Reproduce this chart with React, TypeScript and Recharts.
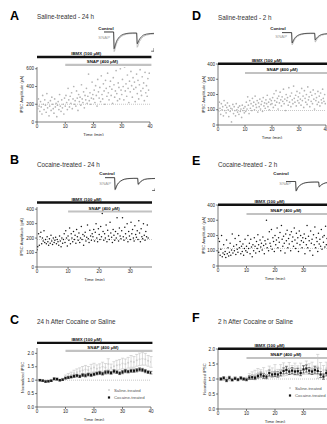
import React from "react";
import {
  ScatterChart,
  Scatter,
  XAxis,
  YAxis,
  ReferenceLine,
  ErrorBar,
  LineChart,
  Line,
} from "recharts";

const FONT = "'Liberation Sans', Arial, Helvetica, sans-serif";
const INK = "#262626";
const DOT_GRAY = "#b4b4b4";
const BAR_GRAY = "#c2c2c2";

// one sweep every 15 s
const SWEEP = 0.25;

// A: saline-treated, 24 h (pA)
const salineA24 = [
  210, 150, 260, 180, 120, 230, 170, 90, 300, 200,
  140, 250, 190, 110, 320, 160, 220, 70, 180, 240,
  130, 280, 200, 150, 100, 260, 170, 210, 60, 190,
  230, 140, 310, 180, 120, 250, 160, 200, 90, 270,
  180, 300, 220, 140, 380, 250, 170, 290, 210, 330,
  150, 260, 400, 200, 240, 180, 350, 270, 130, 310,
  230, 280, 190, 420, 260, 220, 340, 160, 300, 250,
  380, 210, 290, 540, 240, 330, 200, 270, 450, 310,
  260, 360, 220, 410, 300, 180, 480, 340, 270, 390,
  230, 520, 310, 260, 430, 350, 200, 470, 380, 290,
  550, 330, 250, 400, 460, 300, 370, 210, 500, 420,
  280, 350, 580, 320, 240, 440, 390, 260, 600, 360,
  310, 480, 400, 250, 620, 350, 430, 290, 530, 380,
  220, 460, 340, 570, 410, 280, 500, 370, 450, 230,
  390, 540, 320, 470, 260, 420, 590, 350, 300, 510,
  380, 440, 240, 560, 330, 410, 290, 490, 360, 550,
];

// B: cocaine-treated, 24 h (pA)
const cocaineB24 = [
  120, 140, 230, 150, 210, 240, 160, 200, 180, 250,
  170, 190, 160, 210, 175, 150, 195, 165, 220, 180,
  155, 200, 170, 185, 205, 160, 190, 175, 150, 215,
  180, 140, 200, 165, 190, 230,
  170, 250, 200, 145, 215, 185, 270, 160, 230, 200,
  175, 245, 190, 220, 165, 260, 210, 185, 235, 170,
  200, 280, 190, 225, 150, 215, 240, 180, 205, 290,
  195, 170, 255, 215, 185, 230,
  210, 260, 180, 240, 300, 200, 175, 265, 225, 190,
  280, 210, 370, 245, 185, 230, 200, 290, 175, 255,
  215, 190, 310, 235, 205, 170, 260, 220, 185, 245,
  200, 340, 230, 180, 270, 215,
  195, 250, 340, 210, 185, 275, 230, 200, 300, 175,
  245, 215, 190, 310, 230, 260, 200, 180, 285, 225,
  205, 250, 190, 320, 235, 175, 265, 210, 195, 300,
  220, 185, 245, 210, 290, 200,
];

// D: saline-treated, 2 h (pA)
const salineD2 = [
  130, 90, 150, 110, 70, 140, 100, 120, 60, 160,
  95, 130, 80, 115, 145, 100, 55, 125, 90, 110,
  20, 105, 135, 75, 120, 95, 60, 140, 100, 85,
  115, 70, 125, 90, 105, 50, 130, 95, 110, 80,
  120, 90, 150, 105, 185, 130, 75, 160, 110, 140,
  95, 175, 125, 150, 100, 190, 135, 115, 160, 85,
  145, 120, 170, 105, 135, 155, 90, 180, 125, 145,
  110, 165, 140, 195, 120, 150, 100, 170, 135, 160,
  140, 180, 115, 205, 160, 130, 225, 150, 175, 105,
  190, 145, 215, 165, 125, 185, 155, 235, 140, 170,
  95, 200, 160, 180, 130, 245, 150, 190, 120, 210,
  165, 140, 255, 175, 150, 195, 125, 220, 160, 185,
  145, 210, 170, 130, 240, 160, 190, 115, 225, 175,
  150, 200, 135, 250, 165, 185, 120, 215, 155, 195,
  140, 230, 170, 105, 205, 160, 180, 135, 220, 150,
  190, 125, 210, 165, 145, 235, 175, 155, 200, 140,
];

// E: cocaine-treated, 2 h (pA)
const cocaineE2 = [
  180, 90, 160, 70, 110, 200, 60, 85, 140, 75,
  95, 55, 170, 80, 120, 65, 90, 150, 70, 105,
  210, 85, 130, 100, 180, 75, 140, 110, 90, 200,
  120, 160, 80, 130, 95, 145, 70, 115, 175, 100,
  130, 90, 200, 115, 150, 80, 175, 125, 60, 140,
  100, 185, 130, 85, 160, 115, 205, 140, 95, 170,
  125, 150, 105, 190, 135, 80, 165, 145, 300, 120,
  175, 100, 225, 150, 130, 240, 110, 185, 160, 95,
  200, 140, 170, 250, 120, 185, 155, 220, 100, 265,
  175, 130, 195, 150, 85, 210, 165, 235, 120, 180,
  145, 205, 100, 225, 160, 190, 130, 250, 170, 115,
  215, 150, 185, 95, 230, 140, 200, 165, 120, 185,
  155, 210, 80, 180, 140, 265, 120, 195, 165, 100,
  230, 150, 175, 70, 205, 140, 255, 120, 185, 160,
  95, 215, 145, 175, 130, 240, 110, 190, 155, 200,
  125, 260, 140, 180, 105, 225, 165, 135, 195, 150,
];

// C / F: 1-min bins, normalized IPSC mean and SEM
const minutes = [
  1, 2, 3, 4, 5, 6, 7, 8, 9, 10, 11, 12, 13, 14, 15, 16, 17, 18, 19, 20,
  21, 22, 23, 24, 25, 26, 27, 28, 29, 30, 31, 32, 33, 34, 35, 36, 37, 38, 39, 40,
];
const salineC = [
  1.0, 0.97, 0.97, 0.98, 1.0, 1.02, 1.03, 1.0, 1.03, 1.12, 1.17, 1.2, 1.26, 1.3, 1.33, 1.37, 1.4, 1.38, 1.44, 1.47,
  1.43, 1.46, 1.5, 1.47, 1.6, 1.46, 1.52, 1.56, 1.58, 1.62, 1.6, 1.65, 1.7, 1.68, 1.74, 1.78, 1.8, 1.78, 1.72, 1.68,
];
const salineCErr = [
  0.02, 0.02, 0.03, 0.02, 0.03, 0.03, 0.04, 0.03, 0.04, 0.07, 0.08, 0.1, 0.11, 0.12, 0.13, 0.14, 0.15, 0.13, 0.15, 0.16,
  0.14, 0.15, 0.17, 0.15, 0.2, 0.14, 0.17, 0.18, 0.19, 0.2, 0.19, 0.2, 0.22, 0.2, 0.22, 0.23, 0.24, 0.22, 0.2, 0.2,
];
const cocaineC = [
  1.0, 0.98, 0.95, 0.96, 0.98, 1.05, 1.04, 1.0, 1.02, 1.08, 1.1, 1.12, 1.15, 1.17, 1.14, 1.19, 1.17, 1.21, 1.19, 1.22,
  1.25, 1.27, 1.24, 1.29, 1.3, 1.27, 1.33, 1.3, 1.26, 1.3, 1.34, 1.32, 1.35, 1.35, 1.37, 1.4, 1.38, 1.34, 1.3, 1.28,
];
const cocaineCErr = [
  0.03, 0.03, 0.03, 0.03, 0.03, 0.04, 0.04, 0.03, 0.03, 0.04, 0.04, 0.04, 0.05, 0.05, 0.04, 0.05, 0.05, 0.05, 0.05, 0.05,
  0.05, 0.06, 0.05, 0.06, 0.06, 0.05, 0.06, 0.05, 0.05, 0.06, 0.06, 0.05, 0.06, 0.06, 0.06, 0.06, 0.06, 0.06, 0.05, 0.05,
];
const salineF = [
  1.0, 0.98, 1.02, 0.97, 1.0, 1.03, 0.99, 1.01, 0.98, 1.02, 1.08, 1.12, 1.15, 1.2, 1.18, 1.22, 1.15, 1.25, 1.22, 1.28,
  1.2, 1.3, 1.32, 1.28, 1.35, 1.3, 1.33, 1.28, 1.35, 1.3, 1.38, 1.33, 1.36, 1.3, 1.42, 1.35, 1.3, 1.36, 1.32, 1.38,
];
const salineFErr = [
  0.03, 0.03, 0.04, 0.03, 0.03, 0.04, 0.03, 0.03, 0.03, 0.04, 0.1, 0.12, 0.14, 0.15, 0.13, 0.16, 0.12, 0.18, 0.15, 0.2,
  0.12, 0.18, 0.22, 0.16, 0.2, 0.15, 0.2, 0.16, 0.18, 0.15, 0.22, 0.18, 0.2, 0.15, 0.4, 0.2, 0.15, 0.2, 0.18, 0.2,
];
const cocaineF = [
  1.0, 1.03, 0.95, 1.04, 0.97, 1.02, 0.98, 1.03, 1.0, 0.98, 1.05, 1.06, 1.04, 1.1, 1.15, 1.1, 1.08, 1.2, 1.15, 1.16,
  1.15, 1.2, 1.27, 1.3, 1.25, 1.28, 1.25, 1.26, 1.2, 1.32, 1.35, 1.28, 1.25, 1.3, 1.27, 1.15, 1.08, 1.2, 1.22, 1.28,
];
const cocaineFErr = [
  0.04, 0.05, 0.04, 0.05, 0.04, 0.04, 0.04, 0.05, 0.04, 0.04, 0.06, 0.07, 0.06, 0.07, 0.08, 0.08, 0.07, 0.1, 0.08, 0.08,
  0.09, 0.1, 0.1, 0.11, 0.1, 0.1, 0.1, 0.1, 0.09, 0.12, 0.12, 0.1, 0.1, 0.11, 0.1, 0.1, 0.09, 0.1, 0.1, 0.11,
];

// example IPSC traces (paired pulses), arbitrary units
const traceT = [-6, 4, 4.5, 5, 6, 7, 8, 10, 12, 14, 17, 20, 24, 28, 28.5, 29, 30, 31, 33, 35, 38, 42, 46];
const ctrlSaline = [0, 0, -0.85, -0.8, -0.62, -0.48, -0.38, -0.25, -0.17, -0.12, -0.08, -0.06, -0.05, -0.05, -0.6, -0.58, -0.46, -0.36, -0.24, -0.16, -0.11, -0.08, -0.07];
const snapSaline = [0, 0, -1.0, -0.96, -0.76, -0.6, -0.48, -0.33, -0.23, -0.17, -0.12, -0.09, -0.08, -0.08, -0.78, -0.75, -0.6, -0.48, -0.33, -0.23, -0.16, -0.12, -0.1];
const ctrlCocaine = [0, 0, -0.9, -0.84, -0.64, -0.5, -0.4, -0.27, -0.18, -0.12, -0.08, -0.06, -0.05, -0.05, -0.5, -0.48, -0.38, -0.3, -0.2, -0.13, -0.09, -0.07, -0.06];
const snapCocaine = [0, 0, -0.95, -0.9, -0.69, -0.54, -0.43, -0.29, -0.2, -0.14, -0.09, -0.07, -0.06, -0.06, -0.56, -0.54, -0.43, -0.34, -0.22, -0.15, -0.1, -0.08, -0.07];

type Pt = { x: number; y: number; e?: number };

const sweeps = (ys: number[]): Pt[] => ys.map((y, i) => ({ x: i * SWEEP, y }));
const binned = (ys: number[], es: number[]): Pt[] =>
  minutes.map((m, i) => ({ x: m, y: ys[i], e: es[i] }));

const axisStroke = { stroke: INK, strokeWidth: 0.6 };
const tickStyle = { fontSize: 4.6, fill: INK, fontFamily: FONT };

function barLabel(text: string, frac: number) {
  return (p: any) => {
    const vb = p.viewBox || { x: 0, y: 0, width: 0 };
    return (
      <text
        x={vb.x + vb.width * frac}
        y={vb.y - 1.6}
        textAnchor="middle"
        fontSize={4.4}
        fontWeight="bold"
        fill="#111"
        fontFamily={FONT}
      >
        {text}
      </text>
    );
  };
}

type Series = {
  data: Pt[];
  kind: "gray" | "black" | "grayMean" | "blackMean";
};

function dotShape(kind: Series["kind"]) {
  return (p: any) => {
    if (kind === "gray") return <circle cx={p.cx} cy={p.cy} r={0.85} fill={DOT_GRAY} />;
    if (kind === "black") return <circle cx={p.cx} cy={p.cy} r={0.75} fill="#151515" />;
    if (kind === "grayMean") return <circle cx={p.cx} cy={p.cy} r={1} fill="#cfcfcf" />;
    return <rect x={p.cx - 1.1} y={p.cy - 1.1} width={2.2} height={2.2} fill="#151515" />;
  };
}

interface PanelProps {
  left: number;
  top: number;
  width: number;
  height: number;
  mt: number;
  mr: number;
  yw: number;
  xMax: number;
  xTicks: number[];
  yMax: number;
  yTicks: number[];
  yFmt?: (v: number) => string;
  yLabel: string;
  yLabelX: number;
  ibmx: number;
  snap: number;
  barEnd: number;
  base: number;
  series: Series[];
}

function Panel(p: PanelProps) {
  return (
    <div style={{ position: "absolute", left: p.left, top: p.top }}>
      <ScatterChart width={p.width} height={p.height} margin={{ top: p.mt, right: p.mr, left: 0, bottom: 0 }}>
        <XAxis
          type="number"
          dataKey="x"
          domain={[0, p.xMax]}
          ticks={p.xTicks}
          allowDataOverflow
          height={14}
          tickSize={2}
          tickMargin={1}
          tick={tickStyle}
          axisLine={axisStroke}
          tickLine={axisStroke}
          label={{ value: "Time (min)", position: "insideBottom", offset: 0, fontSize: 4.3, fill: INK, fontFamily: FONT }}
        />
        <YAxis
          type="number"
          dataKey="y"
          domain={[0, p.yMax]}
          ticks={p.yTicks}
          allowDataOverflow
          width={p.yw}
          tickSize={2}
          tickMargin={1}
          tick={tickStyle}
          tickFormatter={p.yFmt}
          axisLine={axisStroke}
          tickLine={axisStroke}
          label={{
            value: p.yLabel,
            angle: -90,
            position: "insideLeft",
            offset: p.yLabelX,
            style: { textAnchor: "middle" },
            fontSize: 4.1,
            fill: INK,
            fontFamily: FONT,
          }}
        />
        <ReferenceLine y={p.base} stroke="#8c8c8c" strokeWidth={0.6} strokeDasharray="0.8 1.2" />
        {p.series.map((s, i) => (
          <Scatter key={i} data={s.data} isAnimationActive={false} shape={dotShape(s.kind)}>
            {s.kind === "grayMean" && (
              <ErrorBar dataKey="e" direction="y" width={1.6} stroke={BAR_GRAY} strokeWidth={0.6} />
            )}
            {s.kind === "blackMean" && (
              <ErrorBar dataKey="e" direction="y" width={1.4} stroke="#151515" strokeWidth={0.5} />
            )}
          </Scatter>
        ))}
        <ReferenceLine
          segment={[{ x: 0, y: p.ibmx }, { x: p.barEnd, y: p.ibmx }]}
          stroke="#111"
          strokeWidth={2.4}
          ifOverflow="visible"
          label={barLabel("IBMX (100 μM)", 0.43)}
        />
        <ReferenceLine
          segment={[{ x: 10, y: p.snap }, { x: p.barEnd, y: p.snap }]}
          stroke={BAR_GRAY}
          strokeWidth={2.2}
          ifOverflow="visible"
          label={barLabel("SNAP (400 μM)", 0.43)}
        />
      </ScatterChart>
    </div>
  );
}

interface TraceProps {
  left: number;
  top: number;
  height: number;
  ctrl: number[];
  snap: number[];
  scaleBar?: boolean;
}

function Trace({ left, top, height, ctrl, snap, scaleBar }: TraceProps) {
  const data = traceT.map((t, i) => ({ t, c: ctrl[i], s: snap[i] }));
  return (
    <div style={{ position: "absolute", left, top }}>
      <LineChart width={50} height={height} data={data} margin={{ top: 0, right: 0, left: 0, bottom: 0 }}>
        <XAxis type="number" dataKey="t" domain={[-6, 46]} hide />
        <YAxis type="number" domain={[-1.02, 0.05]} hide />
        <Line type="linear" dataKey="s" stroke="#a8a8a8" strokeWidth={0.7} dot={false} isAnimationActive={false} />
        <Line type="linear" dataKey="c" stroke="#1a1a1a" strokeWidth={0.7} dot={false} isAnimationActive={false} />
        {scaleBar && (
          <ReferenceLine segment={[{ x: 43, y: -0.98 }, { x: 46, y: -0.98 }]} stroke="#111" strokeWidth={0.6} ifOverflow="visible" />
        )}
        {scaleBar && (
          <ReferenceLine segment={[{ x: 46, y: -0.98 }, { x: 46, y: -0.82 }]} stroke="#111" strokeWidth={0.6} ifOverflow="visible" />
        )}
      </LineChart>
    </div>
  );
}

function Texts() {
  const letter = (x: number, y: number, s: string) => (
    <text x={x} y={y} fontSize={12.5} fontWeight="bold" fill="#000" dominantBaseline="central" fontFamily={FONT}>
      {s}
    </text>
  );
  const title = (x: number, y: number, s: string) => (
    <text x={x} y={y} fontSize={6.3} fill="#333" dominantBaseline="central" fontFamily={FONT}>
      {s}
    </text>
  );
  const small = (x: number, y: number, s: string, fill: string, bold = false, anchor = "middle") => (
    <text
      x={x}
      y={y}
      fontSize={4.3}
      fontWeight={bold ? "bold" : "normal"}
      fill={fill}
      textAnchor={anchor as any}
      dominantBaseline="central"
      fontFamily={FONT}
    >
      {s}
    </text>
  );
  const legend = (x: number, y: number) => (
    <g>
      <circle cx={x} cy={y} r={1} fill="#cfcfcf" />
      {small(x + 5, y, "Saline-treated", "#555", false, "start")}
      <rect x={x - 1.1} y={y + 7.5 - 1.1} width={2.2} height={2.2} fill="#151515" />
      {small(x + 5, y + 7.5, "Cocaine-treated", "#555", false, "start")}
    </g>
  );
  return (
    <svg width={327} height={424} style={{ position: "absolute", left: 0, top: 0, pointerEvents: "none" }}>
      {letter(10, 16, "A")}
      {title(37, 16, "Saline-treated - 24 h")}
      {letter(192, 16, "D")}
      {title(218, 17, "Saline-treated - 2 h")}
      {letter(10, 160, "B")}
      {title(37, 164, "Cocaine-treated - 24 h")}
      {letter(192, 161, "E")}
      {title(218, 164, "Cocaine-treated - 2 h")}
      {letter(10, 320, "C")}
      {title(37, 321, "24 h After Cocaine or Saline")}
      {letter(192, 318, "F")}
      {title(218, 321, "2 h After Cocaine or Saline")}

      {small(106, 28.5, "Control", "#111", true)}
      {small(110, 37, "SNAP", "#a0a0a0", false, "end")}
      {small(278, 28.5, "Control", "#111", true)}
      {small(287, 36, "SNAP", "#a0a0a0", false, "end")}
      {small(107, 173, "Control", "#111", true)}
      {small(111, 183, "SNAP", "#a0a0a0", false, "end")}
      {small(281, 173, "Control", "#111", true)}
      {small(291, 183, "SNAP", "#a0a0a0", false, "end")}

      {legend(109, 390)}
      {legend(290, 388)}
    </svg>
  );
}

const norm = (v: number) => v.toFixed(1);

export default function App() {
  return (
    <div
      style={{
        position: "fixed",
        left: 0,
        top: 0,
        width: 327,
        height: 424,
        overflow: "hidden",
        background: "#fff",
        fontFamily: FONT,
      }}
    >
      <Trace left={104} top={31} height={21} ctrl={ctrlSaline} snap={snapSaline} scaleBar />
      <Trace left={282} top={32} height={13} ctrl={ctrlSaline} snap={snapSaline} />
      <Trace left={105} top={177} height={14} ctrl={ctrlCocaine} snap={snapCocaine} scaleBar />
      <Trace left={286} top={181} height={11} ctrl={ctrlCocaine} snap={snapCocaine} />

      <Panel
        left={0} top={45} width={162} height={91} mt={22} mr={12} yw={37}
        xMax={40} xTicks={[0, 10, 20, 30, 40]}
        yMax={620} yTicks={[0, 200, 400, 600]}
        yLabel="IPSC Amplitude (pA)" yLabelX={22}
        ibmx={733} snap={643} barEnd={40.5} base={200}
        series={[{ data: sweeps(salineA24), kind: "gray" }]}
      />
      <Panel
        left={160} top={40} width={170} height={99} mt={24} mr={4} yw={58}
        xMax={40} xTicks={[0, 10, 20, 30, 40]}
        yMax={400} yTicks={[0, 100, 200, 300, 400]}
        yLabel="IPSC Amplitude (pA)" yLabelX={44}
        ibmx={402} snap={341} barEnd={42} base={95}
        series={[{ data: sweeps(salineD2), kind: "gray" }]}
      />
      <Panel
        left={0} top={185} width={164} height={96} mt={22} mr={12} yw={37}
        xMax={37} xTicks={[0, 10, 20, 30]}
        yMax={415} yTicks={[0, 100, 200, 300, 400]}
        yLabel="IPSC Amplitude (pA)" yLabelX={22}
        ibmx={446} snap={384} barEnd={37} base={190}
        series={[{ data: sweeps(cocaineB24), kind: "black" }]}
      />
      <Panel
        left={160} top={181} width={182} height={99} mt={24} mr={10} yw={58}
        xMax={40} xTicks={[0, 10, 20, 30]}
        yMax={400} yTicks={[0, 100, 200, 300, 400]}
        yLabel="IPSC Amplitude (pA)" yLabelX={44}
        ibmx={402} snap={341} barEnd={42} base={115}
        series={[{ data: sweeps(cocaineE2), kind: "black" }]}
      />
      <Panel
        left={0} top={320} width={163} height={101} mt={28} mr={12} yw={37}
        xMax={40} xTicks={[0, 10, 20, 30, 40]}
        yMax={2.2} yTicks={[0, 0.5, 1, 1.5, 2]} yFmt={norm}
        yLabel="Normalized IPSC" yLabelX={23}
        ibmx={2.39} snap={2.09} barEnd={40.5} base={1}
        series={[
          { data: binned(salineC, salineCErr), kind: "grayMean" },
          { data: binned(cocaineC, cocaineCErr), kind: "blackMean" },
        ]}
      />
      <Panel
        left={160} top={325} width={182} height={98} mt={24} mr={10} yw={58}
        xMax={40} xTicks={[0, 10, 20, 30]}
        yMax={2} yTicks={[0, 0.5, 1, 1.5, 2]} yFmt={norm}
        yLabel="Normalized IPSC" yLabelX={45}
        ibmx={2.01} snap={1.7} barEnd={42} base={1}
        series={[
          { data: binned(salineF, salineFErr), kind: "grayMean" },
          { data: binned(cocaineF, cocaineFErr), kind: "blackMean" },
        ]}
      />

      <Texts />
    </div>
  );
}
